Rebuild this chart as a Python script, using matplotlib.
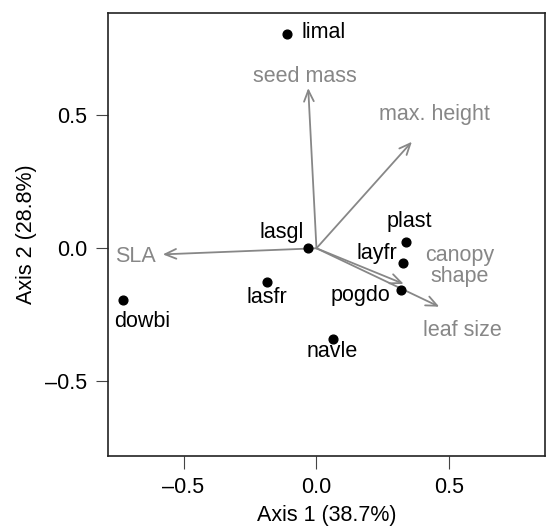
import matplotlib
matplotlib.use("Agg")
import matplotlib.pyplot as plt

plt.rcParams["font.family"] = ["Liberation Sans", "DejaVu Sans"]

# species scores
species = ["limal", "lasgl", "plast", "layfr", "pogdo", "lasfr", "dowbi", "navle"]
sp_x = [-0.111, -0.032, 0.337, 0.324, 0.318, -0.186, -0.728, 0.061]
sp_y = [0.806, 0.002, 0.023, -0.056, -0.157, -0.126, -0.195, -0.341]

# trait vectors
traits = ["seed mass", "max. height", "SLA", "canopy\nshape", "leaf size"]
tr_x = [-0.031, 0.359, -0.578, 0.328, 0.462]
tr_y = [0.603, 0.401, -0.023, -0.134, -0.220]

# label positions
sp_lab_x = [-0.055, -0.13, 0.351, 0.228, 0.165, -0.186, -0.657, 0.061]
sp_lab_y = [0.812, 0.058, 0.100, -0.021, -0.176, -0.184, -0.276, -0.387]
sp_ha = ["left", "center", "center", "center", "center", "center", "center", "center"]
tr_lab_x = [-0.043, 0.445, -0.682, 0.54, 0.55]
tr_lab_y = [0.648, 0.502, -0.032, -0.067, -0.308]

fs = 15.5

fig = plt.figure(figsize=(5.5, 5.27), dpi=100)
ax = fig.add_axes([0.196, 0.1347, 0.795, 0.8413])

grey = "#878787"
for x, y in zip(tr_x, tr_y):
    ax.annotate("", xy=(x, y), xytext=(0, 0),
                arrowprops=dict(arrowstyle="->,head_length=0.8,head_width=0.35",
                                color=grey, lw=1.3, shrinkA=0, shrinkB=0))
for lab, x, y in zip(traits, tr_lab_x, tr_lab_y):
    ax.text(x, y, lab, color=grey, fontsize=fs, ha="center", va="center",
            linespacing=1.0)

ax.plot(sp_x, sp_y, "o", color="black", markersize=6.3, zorder=3)
for lab, x, y, ha in zip(species, sp_lab_x, sp_lab_y, sp_ha):
    ax.text(x, y, lab, color="black", fontsize=fs, ha=ha, va="center")

ax.set_xlim(-0.785, 0.86)
ax.set_ylim(-0.782, 0.887)
ax.set_xticks([-0.5, 0.0, 0.5])
ax.set_yticks([-0.5, 0.0, 0.5])
ax.set_xticklabels(["\u20130.5", "0.0", "0.5"])
ax.set_yticklabels(["\u20130.5", "0.0", "0.5"])
ax.tick_params(labelsize=fs, length=9, width=0.8, color="#444444", pad=6)
ax.set_xlabel("Axis 1 (38.7%)", fontsize=fs, labelpad=5)
ax.set_ylabel("Axis 2 (28.8%)", fontsize=fs, labelpad=6)
for s in ax.spines.values():
    s.set_linewidth(1.2)
    s.set_color("#222222")

fig.savefig("out.png", dpi=100)
